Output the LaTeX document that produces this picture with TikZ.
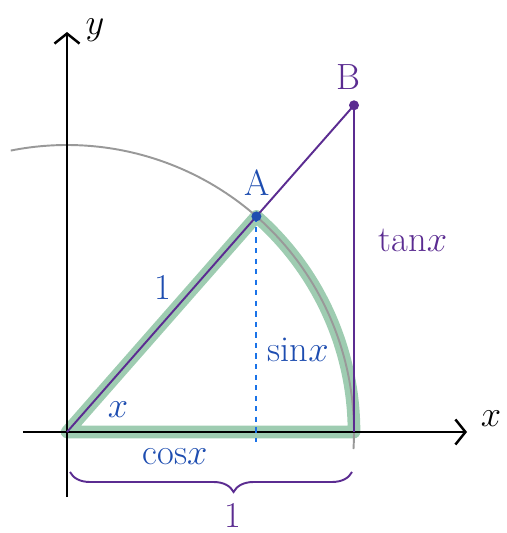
\documentclass[tikz,border=0pt]{standalone}
\usepackage{amsmath,amssymb}
\usetikzlibrary{arrows.meta,calc,decorations.pathreplacing}
\definecolor{trpurple}{HTML}{5B2C91}
\definecolor{trblue}{HTML}{1E4DB0}
\definecolor{trdash}{HTML}{1A73E8}
\definecolor{trgreen}{HTML}{3E9A63}
\definecolor{trgray}{HTML}{999999}
\tikzset{
  axis/.style={line width=1.4pt,-{Straight Barb[length=2mm,width=5mm]}},
  lbl/.style={font=\huge},
}

\begin{document}
\begin{tikzpicture}
    \useasboundingbox (-1.34,-2.02) rectangle (8.8,8.64);
    % unit circle, angle x
    \coordinate (O) at (0,0);
    \coordinate (A) at (48.7:5.74);
    \coordinate (P) at (5.74,0);
    \coordinate (B) at (5.74,{5.74*tan(48.7)});
    \coordinate (F) at ($(A|-O)+(0,-0.2)$);
    % sector
    \draw[trgreen,opacity=0.5,line width=7.2pt,line cap=round,line join=round]
      (O)--(A) arc[start angle=48.7,end angle=0,radius=5.74]--cycle;
    \draw[trgray,line width=1.1pt] (101.3:5.74) arc[start angle=101.3,end angle=-3.4,radius=5.74];
    % axes
    \draw[axis] (-0.88,0)--(8.0,0) coordinate (xe);
    \draw[axis] (0,-1.3)--(0,8.0) coordinate (ye);
    \node[lbl] (xl) at (8.48,0.26){$x$};
    \node[lbl] (yl) at (0.56,8.04){$y$};
    % tangent
    \draw[trpurple,line width=1.1pt] (O)--(B)--(P);
    \fill[trpurple] (B) circle (0.1);
    \draw[trdash,line width=1.1pt,dashed] (A)--(F);
    \fill[trblue] (A) circle (0.1);
    \draw[trpurple,line width=1.1pt,decorate,
          decoration={brace,mirror,amplitude=0.4cm,aspect=0.58}]
      (0.06,-0.8)--(5.7,-0.8);
    % labels
    \node[lbl,trpurple] (lB) at (5.62,7.1){B};
    \node[lbl,trblue] (lA) at (3.8,4.98){A};
    \node[lbl,trblue] (lr) at (1.92,2.9){1};
    \node[lbl,trblue] (lx) at (1.02,0.44){$x$};
    \node[lbl,trblue] (ls) at (4.62,1.64){sin$x$};
    \node[lbl,trblue] (lc) at (2.16,-0.5){cos$x$};
    \node[lbl,trpurple] (lt) at (6.92,3.84){tan$x$};
    \node[lbl,trpurple,inner sep=1pt] (l1) at (3.32,-1.66){1};
  \end{tikzpicture}
\end{document}
